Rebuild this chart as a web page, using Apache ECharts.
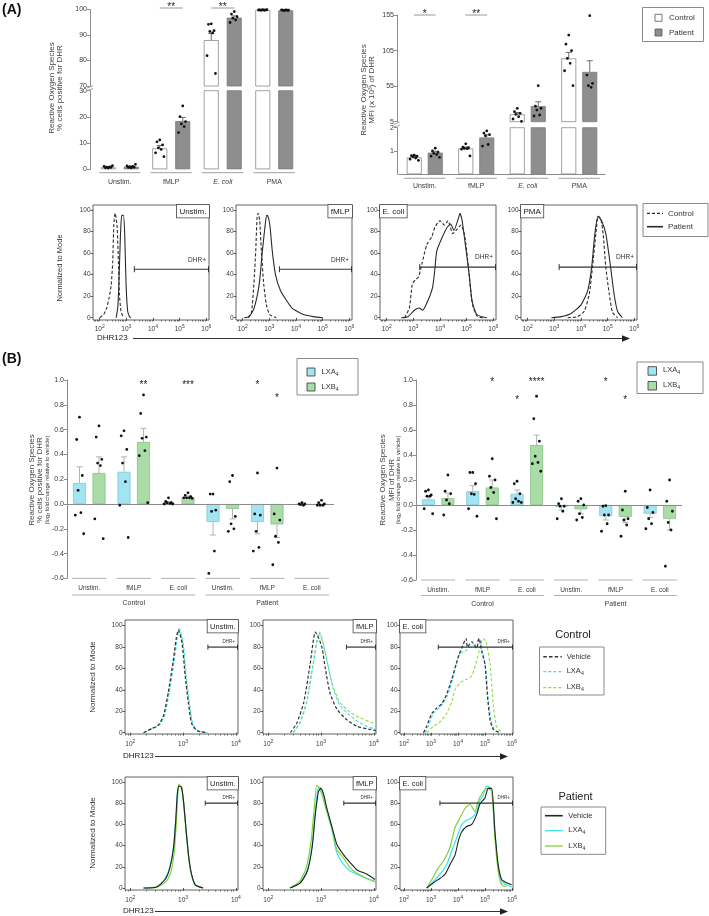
<!DOCTYPE html>
<html>
<head>
<meta charset="utf-8">
<title>ROS figure</title>
<script src="https://cdn.jsdelivr.net/npm/echarts@6.0.0/dist/echarts.min.js"></script>
<style>
html,body{margin:0;padding:0;background:#ffffff;}
#chart{width:709px;height:916px;}
</style>
</head>
<body>
<div id="chart"></div>
<script>
// ===================== DATA =====================
// ---- (A) bar charts ----
const catsA = ['Unstim.', 'fMLP', 'E. coli', 'PMA'];
// % cells positive for DHR
const pctControl = [0.75, 8.0, 88.0, 99.8];
const pctPatient = [1.0, 18.4, 96.8, 99.7];
const pctControlSem = [0.15, 1.1, 2.6, 0.1];
const pctPatientSem = [0.2, 1.4, 0.7, 0.1];
const pctControlDots = [
  [0.5, 0.6, 0.7, 0.8, 0.9, 1.1, 1.4],
  [11.2, 10.5, 9.3, 8.2, 7.6, 6.3, 4.8],
  [94.4, 94.2, 91.7, 91.4, 90.8, 81.9, 74.9],
  [99.9, 99.8, 99.8, 99.7, 99.7, 99.8, 99.9]
];
const pctPatientDots = [
  [0.6, 0.7, 0.8, 0.9, 1.1, 1.3, 1.9],
  [24.2, 20.1, 18.2, 17.3, 16.3, 14.0],
  [99.2, 98.2, 97.2, 96.6, 95.9, 94.9],
  [99.8, 99.7, 99.7, 99.6, 99.7, 99.8]
];
const pctSigCats = ['fMLP', 'E. coli'];
const pctSigText = ['**', '**'];
// MFI (x10^3) of DHR
const mfiControl = [0.73, 1.11, 15.4, 94.0];
const mfiPatient = [0.93, 1.58, 27.0, 75.0];
const mfiControlSem = [0.04, 0.06, 2.4, 8.5];
const mfiPatientSem = [0.06, 0.12, 6.0, 15.7];
const mfiControlDots = [
  [0.82, 0.8, 0.78, 0.75, 0.7, 0.65, 0.6],
  [1.31, 1.17, 1.14, 1.11, 1.1, 1.08, 0.79],
  [23.8, 19.1, 16.8, 15.4, 12.0, 8.8, 5.5],
  [126.8, 114.0, 104.8, 94.0, 87.0, 76.6, 55.6]
];
const mfiPatientDots = [
  [1.12, 1.0, 0.95, 0.9, 0.85, 0.78, 0.73],
  [1.86, 1.77, 1.7, 1.65, 1.28, 1.21],
  [55.6, 27.0, 23.8, 21.4, 14.4, 13.0],
  [154.0, 70.6, 59.0, 55.6, 53.3]
];
const mfiSigCats = ['Unstim.', 'fMLP'];
const mfiSigText = ['*', '**'];

// ---- (A) histograms: [log10 DHR123 intensity, % of mode] ----
const histTicksPct = [0, 20, 40, 60, 80, 100];
const aUnstimControl = [[2.0,0],[2.15,3],[2.25,8],[2.35,18],[2.43,30],[2.49,52],[2.53,86],[2.58,97],[2.65,86],[2.69,62],[2.74,22],[2.8,6],[2.89,0]];
const aUnstimPatient = [[2.62,0],[2.68,10],[2.72,31],[2.78,77],[2.83,95],[2.89,95],[2.94,77],[2.99,31],[3.05,6],[3.12,1],[3.17,0]];
const aFmlpControl = [[2.2,0],[2.33,5],[2.42,31],[2.49,62],[2.54,93],[2.58,97],[2.64,90],[2.7,62],[2.79,31],[2.89,12],[3.01,3],[3.26,0]];
const aFmlpPatient = [[2.06,0],[2.25,1],[2.43,9],[2.62,31],[2.74,62],[2.83,83],[2.9,95],[2.95,94],[3.02,86],[3.11,62],[3.23,40],[3.42,25],[3.67,15],[3.85,9],[4.04,6],[4.28,3],[4.65,1],[5.0,0]];
const aEcoliControl = [[2.67,0],[2.85,9],[2.96,31],[3.07,35],[3.2,38],[3.32,50],[3.51,68],[3.69,75],[3.81,84],[4.0,90],[4.17,86],[4.3,90],[4.48,78],[4.6,81],[4.79,86],[4.91,78],[5.0,62],[5.1,38],[5.22,12],[5.41,1],[5.72,0]];
const aEcoliPatient = [[2.55,0],[2.8,1],[3.04,7],[3.22,9],[3.35,7],[3.53,15],[3.72,28],[3.8,43],[3.88,62],[4.09,75],[4.27,84],[4.4,87],[4.52,81],[4.7,93],[4.75,97],[4.83,90],[4.95,68],[5.09,41],[5.2,16],[5.38,3],[5.75,0]];
const aPmaControl = [[3.5,0],[3.87,1],[4.12,6],[4.31,22],[4.43,47],[4.56,78],[4.64,94],[4.74,92],[4.83,78],[4.93,47],[5.06,22],[5.18,5],[5.37,0]];
const aPmaPatient = [[2.89,0],[3.26,1],[3.63,4],[4.0,12],[4.25,25],[4.4,47],[4.52,78],[4.64,94],[4.77,90],[4.93,78],[5.11,47],[5.24,22],[5.37,6],[5.55,0]];
const aGates = [[3.3,45],[3.38,45],[3.24,47],[3.18,47]]; // DHR+ gate start (log10) and drawing height

// ---- (B) bar charts ----
const catsB = ['Unstim.', 'fMLP', 'E. coli', 'Unstim.', 'fMLP', 'E. coli'];
const groupsB = ['Control', 'Patient'];
// % cells positive for DHR, log2 fold change vs vehicle
const pctLXA = [0.17, 0.26, 0.01, -0.145, -0.145, -0.005];
const pctLXB = [0.25, 0.50, 0.055, -0.04, -0.165, -0.005];
const pctLXASem = [0.13, 0.12, 0.008, 0.105, 0.095, 0.004];
const pctLXBSem = [0.13, 0.11, 0.01, 0.08, 0.105, 0.005];
const pctLXADots = [[0.70,0.52,0.23,0.11,-0.07,-0.09,-0.24],[0.59,0.55,0.44,0.33,0.18,-0.01,-0.27],[0.05,0.02,0.01,0.01,0.005,0.0,0.0],[0.08,0.08,-0.05,-0.06,-0.38,-0.56],[0.25,-0.08,-0.09,-0.22,-0.35,-0.38],[0.01,0.0,0.0,-0.005,-0.01]];
const pctLXBDots = [[0.63,0.54,0.36,0.33,0.31,-0.12,-0.28],[0.88,0.73,0.54,0.53,0.43,0.39,0.01],[0.09,0.07,0.06,0.05,0.05,0.05,0.045],[0.23,0.18,-0.10,-0.16,-0.20,-0.22],[0.29,-0.08,-0.13,-0.26,-0.31,-0.49],[0.03,0.01,0.0,-0.01,-0.01,-0.01]];
const pctSigB = { cat: [1, 2, 4, 4], series: [1, 1, 0, 1], y: [0.975, 0.975, 0.975, 0.87], text: ['**', '***', '*', '*'] };
// MFI of DHR, log2 fold change vs vehicle
const mfiLXA = [0.045, 0.11, 0.09, -0.015, -0.09, -0.07];
const mfiLXB = [0.055, 0.14, 0.48, -0.035, -0.095, -0.11];
const mfiLXASem = [0.025, 0.045, 0.03, 0.025, 0.03, 0.03];
const mfiLXBSem = [0.04, 0.06, 0.08, 0.035, 0.045, 0.09];
const mfiLXADots = [[0.12,0.11,0.08,0.07,0.07,-0.03,-0.07],[0.26,0.26,0.17,0.09,0.085,-0.03,-0.09],[0.19,0.17,0.09,0.05,0.03,0.02,0.02],[0.05,0.01,-0.01,-0.01,-0.05,-0.11],[-0.005,-0.01,-0.08,-0.08,-0.15,-0.21],[0.12,-0.02,-0.06,-0.11,-0.15,-0.19]];
const mfiLXBDots = [[0.24,0.11,0.09,0.04,0.01,-0.08],[0.37,0.23,0.2,0.14,0.1,0.05,-0.11],[0.87,0.69,0.51,0.39,0.34,0.33,0.27],[0.05,0.03,0.0,-0.07,-0.1,-0.12],[0.11,-0.04,-0.11,-0.12,-0.16,-0.25],[0.2,0.03,-0.05,-0.14,-0.2,-0.49]];
const mfiSigB = { cat: [1, 2, 2, 4, 4], series: [1, 0, 1, 0, 1], y: [1.0, 0.856, 1.0, 1.0, 0.856], text: ['*', '*', '****', '*', '*'] };

// ---- (B) histograms ----
const bcUnstimVeh = [[2.25,0],[2.41,4],[2.53,7],[2.63,16],[2.72,38],[2.81,66],[2.87,88],[2.91,96],[2.98,84],[3.04,53],[3.1,28],[3.16,9],[3.26,2],[3.45,0]];
const bcUnstimLXA = [[2.27,0],[2.43,4],[2.55,7],[2.65,16],[2.74,38],[2.83,66],[2.89,88],[2.93,97],[3.0,85],[3.06,53],[3.12,28],[3.18,9],[3.28,2],[3.47,0]];
const bcUnstimLXB = [[2.26,0],[2.42,4],[2.54,7],[2.64,17],[2.73,38],[2.82,67],[2.88,89],[2.92,96],[2.99,84],[3.05,52],[3.11,27],[3.17,8],[3.27,2],[3.46,0]];
const bcFmlpVeh = [[2.42,0],[2.54,9],[2.67,28],[2.79,63],[2.89,94],[2.95,89],[3.02,79],[3.08,60],[3.17,37],[3.3,22],[3.49,12],[3.68,6],[3.93,3],[4.04,2]];
const bcFmlpLXA = [[2.48,0],[2.6,9],[2.73,28],[2.85,63],[2.97,94],[3.04,84],[3.13,63],[3.23,41],[3.36,25],[3.55,16],[3.74,9],[3.99,4],[4.04,4]];
const bcFmlpLXB = [[2.47,0],[2.59,9],[2.72,28],[2.84,62],[2.96,93],[3.03,85],[3.12,65],[3.22,44],[3.36,28],[3.55,19],[3.74,14],[3.99,9],[4.04,8]];
const bcEcoliVeh = [[2.72,0],[2.84,6],[3.03,18],[3.21,23],[3.4,27],[3.58,36],[3.77,50],[3.93,64],[4.04,73],[4.14,79],[4.3,88],[4.35,80],[4.51,85],[4.69,79],[4.78,88],[4.88,76],[5.0,64],[5.09,35],[5.19,12],[5.31,3],[5.56,0]];
const bcEcoliLXA = [[2.78,0],[2.9,6],[3.09,18],[3.33,24],[3.58,33],[3.77,47],[4.0,70],[4.1,75],[4.27,76],[4.44,80],[4.63,82],[4.78,88],[4.91,76],[5.04,58],[5.12,32],[5.25,9],[5.37,2],[5.56,0]];
const bcEcoliLXB = [[2.84,0],[3.09,6],[3.33,10],[3.58,18],[3.77,29],[3.89,40],[4.09,47],[4.33,50],[4.51,53],[4.69,67],[4.81,79],[4.93,88],[5.04,85],[5.19,64],[5.31,26],[5.43,6],[5.62,0]];
const bpUnstimVeh = [[2.25,0],[2.5,1],[2.66,8],[2.75,19],[2.82,38],[2.86,63],[2.89,88],[2.92,96],[2.97,95],[3.01,81],[3.06,53],[3.11,28],[3.16,13],[3.23,3],[3.38,0]];
const bpUnstimLXA = [[2.25,0],[2.5,1],[2.66,9],[2.75,20],[2.82,39],[2.86,64],[2.89,89],[2.92,97],[2.97,95],[3.01,80],[3.06,52],[3.11,27],[3.16,12],[3.23,3],[3.38,0]];
const bpUnstimLXB = [[2.27,0],[2.52,1],[2.68,6],[2.77,15],[2.83,33],[2.87,60],[2.9,88],[2.92,98],[2.97,95],[3.01,81],[3.06,53],[3.11,28],[3.16,13],[3.23,3],[3.38,0]];
const bpFmlpVeh = [[2.42,0],[2.61,5],[2.74,16],[2.83,38],[2.89,69],[2.95,91],[3.0,94],[3.05,88],[3.11,75],[3.21,57],[3.3,41],[3.43,31],[3.55,24],[3.68,17],[3.87,13],[4.02,8]];
const bpFmlpLXA = [[2.42,0],[2.61,5],[2.74,17],[2.83,40],[2.89,72],[2.94,93],[2.98,95],[3.04,87],[3.11,72],[3.21,54],[3.3,33],[3.43,22],[3.55,16],[3.68,13],[3.87,9],[4.02,6]];
const bpFmlpLXB = [[2.4,0],[2.59,6],[2.72,19],[2.81,44],[2.87,75],[2.92,97],[2.97,94],[3.03,86],[3.11,72],[3.21,55],[3.3,36],[3.43,28],[3.55,19],[3.68,14],[3.87,9],[4.02,6]];
const bpEcoliVeh = [[2.84,0],[3.09,5],[3.33,9],[3.52,13],[3.7,22],[3.89,31],[4.01,44],[4.14,53],[4.32,58],[4.51,60],[4.69,69],[4.81,79],[5.0,85],[5.12,94],[5.25,94],[5.37,53],[5.49,22],[5.62,8],[5.8,5],[5.99,3]];
const bpEcoliLXA = [[2.84,0],[3.09,6],[3.33,13],[3.58,22],[3.77,35],[3.95,47],[4.14,60],[4.32,64],[4.51,66],[4.69,72],[4.81,82],[4.94,88],[5.06,96],[5.25,93],[5.37,53],[5.49,19],[5.62,6],[5.8,3],[5.99,1]];
const bpEcoliLXB = [[2.84,0],[3.03,8],[3.27,19],[3.45,25],[3.7,38],[3.89,57],[4.07,66],[4.26,75],[4.44,79],[4.63,72],[4.75,82],[4.94,91],[5.09,94],[5.25,91],[5.37,47],[5.49,16],[5.62,3],[5.8,1]];
const bcGates = [[3.47,80],[3.48,80],[3.27,80]];
const bpGates = [[3.42,80],[3.43,80],[3.33,80]];

// ===================== BUILD =====================
const FF = '"Liberation Sans", Arial, Helvetica, sans-serif';
const F = (s, w) => (w ? w + ' ' : '') + s + 'px ' + FF;
const AXC = '#8c8c8c', TXT = '#3a3a3a';
const JIT = [0, -2.8, 2.8, -1.4, 1.4, -4.2, 4.2];
const grid = [], xAxis = [], yAxis = [], series = [], graphic = [];

function isObj(o) { return o && typeof o === 'object' && !Array.isArray(o); }
function merge(a, b) { const r = Object.assign({}, a); for (const k in b) { r[k] = (isObj(a[k]) && isObj(b[k])) ? merge(a[k], b[k]) : b[k]; } return r; }
function addGrid(l, t, w, h, extra) { grid.push(Object.assign({ left: l, top: t, width: w, height: h }, extra || {})); return grid.length - 1; }
function addX(o) { xAxis.push(o); return xAxis.length - 1; }
function addY(o) { yAxis.push(o); return yAxis.length - 1; }

const catLabelRich = { i: { fontStyle: 'italic', fontSize: 7, color: TXT, fontFamily: FF } };
const baseCatX = { type: 'category', boundaryGap: true, axisLine: { show: false }, axisTick: { show: false }, axisLabel: { show: false }, splitLine: { show: false } };
const baseValY = { type: 'value', splitLine: { show: false },
  axisLine: { show: true, lineStyle: { color: AXC, width: 1 } },
  axisTick: { show: true, length: 3, lineStyle: { color: AXC } },
  axisLabel: { fontSize: 7, color: TXT, margin: 3, fontFamily: FF } };

function barSeries(name, xi, yi, data, fill, border, bw, gap, extra) {
  series.push(Object.assign({ type: 'bar', name: name, xAxisIndex: xi, yAxisIndex: yi, data: data, barWidth: bw, barGap: gap,
    clip: true, silent: true, z: 2, itemStyle: { color: fill, borderColor: border, borderWidth: 0.8 } }, extra || {}));
}
function collectDots(a, b, keep) {
  const out = [];
  [a, b].forEach((arr, slot) => arr.forEach((vals, ci) => vals.forEach((v, k) => { if (keep(v)) out.push([ci, v, slot, k]); })));
  return out;
}
function collectErr(mA, mB, eA, eB, keep) {
  const out = [];
  [[mA, eA], [mB, eB]].forEach((pair, slot) => pair[0].forEach((v, ci) => { if (keep(v)) out.push([ci, v, pair[1][ci], slot]); }));
  return out;
}
function dotsSeries(xi, yi, items, off, r) {
  series.push({ type: 'custom', xAxisIndex: xi, yAxisIndex: yi, data: items, silent: true, z: 6,
    renderItem: (p, api) => {
      const c = api.coord([api.value(0), api.value(1)]);
      const x = c[0] + (api.value(2) ? off : -off) + JIT[api.value(3) % JIT.length];
      return { type: 'circle', shape: { cx: x, cy: c[1], r: r }, style: { fill: '#111' } };
    } });
}
function errSeries(xi, yi, items, off, color, cap) {
  series.push({ type: 'custom', xAxisIndex: xi, yAxisIndex: yi, data: items, silent: true, z: 4,
    renderItem: (p, api) => {
      const ci = api.value(0), m = api.value(1), e = api.value(2), slot = api.value(3);
      const d = m < 0 ? -1 : 1;
      const a = api.coord([ci, m]), b = api.coord([ci, m + d * e]);
      const x = a[0] + (slot ? off : -off);
      return { type: 'group', children: [
        { type: 'line', shape: { x1: x, y1: a[1], x2: x, y2: b[1] }, style: { stroke: color, lineWidth: 1 } },
        { type: 'line', shape: { x1: x - cap, y1: b[1], x2: x + cap, y2: b[1] }, style: { stroke: color, lineWidth: 1 } }
      ] };
    } });
}
function segSeries(xi, yi, n, yVal, dy, hw, color) {
  const d = []; for (let i = 0; i < n; i++) d.push([i, yVal]);
  series.push({ type: 'custom', xAxisIndex: xi, yAxisIndex: yi, data: d, silent: true, z: 3,
    renderItem: (p, api) => {
      const c = api.coord([api.value(0), api.value(1)]);
      const bw = api.size([1, 0])[0];
      return { type: 'line', shape: { x1: c[0] - hw * bw, y1: c[1] + dy, x2: c[0] + hw * bw, y2: c[1] + dy }, style: { stroke: color, lineWidth: 1 } };
    } });
}
function sigGroupSeries(xi, yi, cats, sigCats, sigText, yVal, off, lineDy) {
  series.push({ type: 'custom', xAxisIndex: xi, yAxisIndex: yi, data: sigCats.map(c => [cats.indexOf(c), yVal]), silent: true, z: 7,
    renderItem: (p, api) => {
      const c = api.coord([api.value(0), api.value(1)]);
      const y = c[1] + lineDy;
      return { type: 'group', children: [
        { type: 'line', shape: { x1: c[0] - off, y1: y, x2: c[0] + off, y2: y }, style: { stroke: '#9a9a9a', lineWidth: 1 } },
        { type: 'text', style: { text: sigText[p.dataIndex], x: c[0], y: y - 1.2, font: F(10), fill: '#222', textAlign: 'center', textVerticalAlign: 'middle' } }
      ] };
    } });
}
function sigBarSeries(xi, yi, sig, off) {
  series.push({ type: 'custom', xAxisIndex: xi, yAxisIndex: yi, data: sig.cat.map((c, i) => [c, sig.y[i], sig.series[i]]), silent: true, z: 7,
    renderItem: (p, api) => {
      const c = api.coord([api.value(0), api.value(1)]);
      const x = c[0] + (api.value(2) ? off : -off);
      return { type: 'text', style: { text: sig.text[p.dataIndex], x: x, y: c[1] + 2.2, font: F(10), fill: '#222', textAlign: 'center', textVerticalAlign: 'middle' } };
    } });
}

// ---------- (A) broken-axis bar charts ----------
function brokenBars(c) {
  return c.parts.map(pt => {
    const gi = addGrid(c.left, pt.top, c.width, pt.height);
    const xi = addX(merge(baseCatX, merge({ gridIndex: gi, data: c.cats }, pt.x || {})));
    const yi = addY(merge(baseValY, merge({ gridIndex: gi, min: pt.min, max: pt.max, offset: c.yOffset }, pt.y || {})));
    barSeries('Control', xi, yi, c.ctrl, '#ffffff', '#8a8a8a', c.bw, c.gap);
    barSeries('Patient', xi, yi, c.pat, '#8e8e8e', '#7a7a7a', c.bw, c.gap);
    errSeries(xi, yi, collectErr(c.ctrl, c.pat, c.ctrlSem, c.patSem, pt.keep), c.off, '#6a6a6a', 3);
    dotsSeries(xi, yi, collectDots(c.ctrlDots, c.patDots, pt.keep), c.off, 1.4);
    return { xi: xi, yi: yi };
  });
}
const catLabel = { show: true, fontSize: 7, color: TXT, fontFamily: FF, rich: catLabelRich,
  formatter: v => (v === 'E. coli' ? '{i|E. coli}' : v) };

const a1 = brokenBars({ left: 94, width: 206, yOffset: 4, cats: catsA, bw: 15, gap: '53%', off: 11.5,
  ctrl: pctControl, pat: pctPatient, ctrlSem: pctControlSem, patSem: pctPatientSem, ctrlDots: pctControlDots, patDots: pctPatientDots,
  parts: [
    { top: 9.5, height: 76.5, min: 70, max: 100, y: { interval: 10 }, keep: v => v >= 70 },
    { top: 90.7, height: 78.6, min: 0, max: 30, y: { interval: 10 }, keep: v => v <= 30,
      x: { axisLabel: merge(catLabel, { margin: 9 }) } }
  ] });
segSeries(a1[1].xi, a1[1].yi, catsA.length, 0, 3.4, 0.4, '#a0a0a0');
sigGroupSeries(a1[0].xi, a1[0].yi, catsA, pctSigCats, pctSigText, 100, 11.5, -1.5);

const a2 = brokenBars({ left: 399, width: 206, yOffset: 2, cats: catsA, bw: 15, gap: '40%', off: 10.5,
  ctrl: mfiControl, pat: mfiPatient, ctrlSem: mfiControlSem, patSem: mfiPatientSem, ctrlDots: mfiControlDots, patDots: mfiPatientDots,
  parts: [
    { top: 15, height: 106.7, min: 5, max: 155, keep: v => v >= 5,
      y: { axisLabel: { customValues: [5, 55, 105, 155] }, axisTick: { customValues: [5, 55, 105, 155] } } },
    { top: 127.7, height: 46.6, min: 0, max: 2, keep: v => v <= 2,
      y: { axisLabel: { customValues: [1, 2] }, axisTick: { customValues: [1, 2] } },
      x: { axisLine: { show: true, lineStyle: { color: AXC, width: 1 } }, axisLabel: merge(catLabel, { margin: 8 }) } }
  ] });
segSeries(a2[1].xi, a2[1].yi, catsA.length, 0, 4, 0.4, '#a0a0a0');
sigGroupSeries(a2[0].xi, a2[0].yi, catsA, mfiSigCats, mfiSigText, 155, 11, 0);

// ---------- histograms ----------
function addHist(L) {
  const gi = addGrid(L.left, L.top, L.width, L.height, { show: true, borderColor: '#3a3a3a', borderWidth: 0.8, backgroundColor: 'transparent' });
  const xi = addX({ type: 'value', gridIndex: gi, min: L.xMin, max: L.xMax, position: 'bottom',
    axisLine: { show: false }, splitLine: { show: false },
    axisTick: { show: true, customValues: L.majors, length: 3, lineStyle: { color: '#333', width: 0.8 } },
    axisLabel: { show: true, customValues: L.majors, margin: L.labMargin, formatter: v => '{b|10}{s|' + Math.round(v) + '}',
      rich: { b: { fontSize: 6.5, color: TXT, fontFamily: FF, verticalAlign: 'bottom' },
              s: { fontSize: 5, color: TXT, fontFamily: FF, verticalAlign: 'top', padding: [0, 0, 4, 0] } } } });
  const minors = [];
  for (let n = 1; n < 7; n++) for (let k = 2; k < 10; k++) { const v = n + Math.log10(k); if (v > L.xMin && v < L.xMax) minors.push(+v.toFixed(4)); }
  addX({ type: 'value', gridIndex: gi, min: L.xMin, max: L.xMax, position: 'bottom', axisLine: { show: false }, splitLine: { show: false },
    axisLabel: { show: false }, axisTick: { show: true, customValues: minors, length: 1.6, lineStyle: { color: '#333', width: 0.6 } } });
  const yi = addY({ type: 'value', gridIndex: gi, min: L.yMin, max: L.yMax, axisLine: { show: false }, splitLine: { show: false },
    axisTick: { show: true, customValues: histTicksPct, length: 2.5, lineStyle: { color: '#333', width: 0.8 } },
    axisLabel: { show: true, customValues: histTicksPct, fontSize: 6.5, color: TXT, margin: 2.5, fontFamily: FF } });
  L.curves.forEach(c => series.push({ type: 'line', xAxisIndex: xi, yAxisIndex: yi, data: c.data, showSymbol: false, symbol: 'none',
    smooth: 0.2, silent: true, z: c.z || 2, lineStyle: { color: c.color, width: c.width, type: c.dash ? [3.2, 2] : 'solid' } }));
  series.push({ type: 'custom', xAxisIndex: xi, yAxisIndex: yi, data: [L.gate], silent: true, z: 5,
    renderItem: (p, api) => {
      const a = api.coord([api.value(0), api.value(1)]);
      const b = api.coord([L.xMax, api.value(1)]);
      const h = L.capH;
      return { type: 'group', children: [
        { type: 'line', shape: { x1: a[0], y1: a[1], x2: b[0], y2: a[1] }, style: { stroke: '#333', lineWidth: 1.2 } },
        { type: 'line', shape: { x1: a[0], y1: a[1] - h, x2: a[0], y2: a[1] + h }, style: { stroke: '#333', lineWidth: 1 } },
        { type: 'line', shape: { x1: b[0] - 0.5, y1: a[1] - h, x2: b[0] - 0.5, y2: a[1] + h }, style: { stroke: '#333', lineWidth: 1 } },
        { type: 'text', style: { text: 'DHR+', x: b[0] - 3, y: a[1] - L.gateDy, font: F(L.gateFont), fill: '#333', textAlign: 'right', textVerticalAlign: 'bottom' } }
      ] };
    } });
  series.push({ type: 'custom', xAxisIndex: xi, yAxisIndex: yi, data: [[L.xMin, L.yMax]], silent: true, z: 8,
    renderItem: (p) => {
      const cs = p.coordSys;
      const right = !L.tagLeft;
      return { type: 'text', style: { text: L.tag, x: right ? cs.x + cs.width : cs.x, y: cs.y, font: F(L.tagFont), fill: '#222',
        textAlign: right ? 'right' : 'left', textVerticalAlign: 'top', backgroundColor: '#ffffff', borderColor: '#444', borderWidth: 0.8, padding: [2.5, 2.5, 2, 2.5] } };
    } });
}
const CTRL_DASH = '#2a2a2a';
// (A) histogram row
const aRow = [
  { tag: 'Unstim.', tagLeft: false, c: aUnstimControl, p: aUnstimPatient },
  { tag: 'fMLP', tagLeft: false, c: aFmlpControl, p: aFmlpPatient },
  { tag: 'E. coli', tagLeft: true, c: aEcoliControl, p: aEcoliPatient },
  { tag: 'PMA', tagLeft: true, c: aPmaControl, p: aPmaPatient }
];
const aLefts = [93, 236, 380, 521];
aRow.forEach((r, i) => addHist({ left: aLefts[i], top: 205, width: 116, height: 115, xMin: 1.75, xMax: 6.1, yMin: -2.1, yMax: 104.6,
  majors: [2, 3, 4, 5, 6], labMargin: 4, tag: r.tag, tagLeft: r.tagLeft, tagFont: 8, gate: aGates[i], capH: 3, gateFont: 6.5, gateDy: 6,
  curves: [{ data: r.c, color: CTRL_DASH, width: 1.1, dash: true }, { data: r.p, color: '#2a2a2a', width: 1.1 }] }));

// (B) histogram rows
const C_LXA = '#3fe0ee', C_LXB = '#93da48', P_LXA = '#35e4f2', P_LXB = '#7fd23a';
const bLefts = [125, 263, 400];
const bRanges = [[1.9, 4.04, [2, 3, 4]], [1.9, 4.04, [2, 3, 4]], [1.85, 6.04, [2, 3, 4, 5, 6]]];
const bTags = ['Unstim.', 'fMLP', 'E. coli'];
const bcRow = [[bcUnstimVeh, bcUnstimLXA, bcUnstimLXB], [bcFmlpVeh, bcFmlpLXA, bcFmlpLXB], [bcEcoliVeh, bcEcoliLXA, bcEcoliLXB]];
const bpRow = [[bpUnstimVeh, bpUnstimLXA, bpUnstimLXB], [bpFmlpVeh, bpFmlpLXA, bpFmlpLXB], [bpEcoliVeh, bpEcoliLXA, bpEcoliLXB]];
bcRow.forEach((r, i) => addHist({ left: bLefts[i], top: 620, width: 113, height: 114, xMin: bRanges[i][0], xMax: bRanges[i][1], yMin: -1.2, yMax: 105.3,
  majors: bRanges[i][2], labMargin: 5, tag: bTags[i], tagLeft: i === 2, tagFont: 7.5, gate: bcGates[i], capH: 2.5, gateFont: 4.5, gateDy: 3,
  curves: [{ data: r[2], color: C_LXB, width: 1.1, dash: true }, { data: r[1], color: C_LXA, width: 1.1, dash: true }, { data: r[0], color: '#333', width: 1.2, dash: true, z: 3 }] }));
bpRow.forEach((r, i) => addHist({ left: bLefts[i], top: 777, width: 113, height: 113, xMin: bRanges[i][0], xMax: bRanges[i][1], yMin: -1.9, yMax: 104.7,
  majors: bRanges[i][2], labMargin: 5, tag: bTags[i], tagLeft: i === 2, tagFont: 7.5, gate: bpGates[i], capH: 2.5, gateFont: 4.5, gateDy: 3,
  curves: [{ data: r[1], color: P_LXA, width: 1.2 }, { data: r[2], color: P_LXB, width: 1.2 }, { data: r[0], color: '#222', width: 1.1, z: 3 }] }));

// ---------- (B) lipoxin bar charts ----------
const LXA_FILL = '#a3e4f2', LXA_BORDER = '#80c6d6', LXB_FILL = '#a9dca7', LXB_BORDER = '#88c286';
function lxChart(c) {
  const gi = addGrid(c.left, c.top, c.width, c.height);
  const xi = addX(merge(baseCatX, { gridIndex: gi, data: catsB, axisLabel: { show: true, margin: 6.5, fontSize: 6.5, color: TXT, fontFamily: FF } }));
  const yi = addY(merge(baseValY, { gridIndex: gi, min: -0.6, max: 1.0, interval: 0.2, axisLabel: { formatter: v => v.toFixed(1) } }));
  barSeries('LXA4', xi, yi, c.a, LXA_FILL, LXA_BORDER, 13, '50%', { markLine: { silent: true, symbol: ['none', 'none'], label: { show: false },
    lineStyle: { color: AXC, width: 1, type: 'solid' }, data: [{ yAxis: 0 }] } });
  barSeries('LXB4', xi, yi, c.b, LXB_FILL, LXB_BORDER, 13, '50%');
  errSeries(xi, yi, collectErr(c.a, c.b, c.aSem, c.bSem, () => true), 9.75, '#b3b3b3', 3);
  dotsSeries(xi, yi, collectDots(c.aDots, c.bDots, () => true), 9.75, 1.4);
  segSeries(xi, yi, catsB.length, -0.6, 0, 0.385, '#b0b0b0');
  series.push({ type: 'custom', xAxisIndex: xi, yAxisIndex: yi, data: [[0, -0.6, 2], [3, -0.6, 5]], silent: true, z: 3,
    renderItem: (p, api) => {
      const a = api.coord([api.value(0), api.value(1)]), b = api.coord([api.value(2), api.value(1)]);
      const bw = api.size([1, 0])[0];
      const y = a[1] + c.bracketDy;
      return { type: 'group', children: [
        { type: 'line', shape: { x1: a[0] - 0.385 * bw, y1: y, x2: b[0] + 0.385 * bw, y2: y }, style: { stroke: '#b0b0b0', lineWidth: 1 } },
        { type: 'text', style: { text: groupsB[p.dataIndex], x: (a[0] + b[0]) / 2, y: y + 8.5, font: F(7), fill: TXT, textAlign: 'center', textVerticalAlign: 'middle' } }
      ] };
    } });
  sigBarSeries(xi, yi, c.sig, 9.75);
}
lxChart({ left: 67, top: 380, width: 267, height: 198.4, a: pctLXA, b: pctLXB, aSem: pctLXASem, bSem: pctLXBSem, aDots: pctLXADots, bDots: pctLXBDots, sig: pctSigB, bracketDy: 16.6 });
lxChart({ left: 416, top: 380, width: 266, height: 200, a: mfiLXA, b: mfiLXB, aSem: mfiLXASem, bSem: mfiLXBSem, aDots: mfiLXADots, bDots: mfiLXBDots, sig: mfiSigB, bracketDy: 15.5 });

// ---------- text, legends, arrows ----------
function txt(text, x, y, font, extra) {
  graphic.push({ type: 'text', silent: true, style: Object.assign({ text: text, x: x, y: y, font: font, fill: '#333', textAlign: 'left', textVerticalAlign: 'middle' }, extra || {}) });
}
function vtxt(text, x, y, font, extra) {
  graphic.push({ type: 'text', silent: true, x: x, y: y, rotation: Math.PI / 2,
    style: Object.assign({ text: text, x: 0, y: 0, font: font, fill: '#444', textAlign: 'center', textVerticalAlign: 'middle' }, extra || {}) });
}
function rect(x, y, w, h, fill, stroke, lw) {
  graphic.push({ type: 'rect', silent: true, shape: { x: x, y: y, width: w, height: h }, style: { fill: fill, stroke: stroke, lineWidth: lw || 1 } });
}
function line(x1, y1, x2, y2, stroke, lw, dash) {
  graphic.push({ type: 'line', silent: true, shape: { x1: x1, y1: y1, x2: x2, y2: y2 }, style: { stroke: stroke, lineWidth: lw || 1, lineDash: dash || null } });
}
function arrow(tx, ty, x1, x2) {
  txt('DHR123', tx, ty, F(8), { fill: '#222' });
  line(x1, ty + 0.5, x2, ty + 0.5, '#333', 1.2);
  graphic.push({ type: 'polygon', silent: true, shape: { points: [[x2, ty - 2.8], [x2 + 8, ty + 0.5], [x2, ty + 3.8]] }, style: { fill: '#222' } });
}
const subRich = (size) => ({ a: { font: F(size), fill: '#333', verticalAlign: 'top' }, s: { font: F(size * 0.7), fill: '#333', verticalAlign: 'bottom', padding: [size * 0.55, 0, 0, 0] } });

txt('(A)', 2, 3, F(14, 'bold'), { fill: '#111', textVerticalAlign: 'top' });
txt('(B)', 2, 352, F(14, 'bold'), { fill: '#111', textVerticalAlign: 'top' });

// axis titles
vtxt('Reactive Oxygen Species', 52, 88, F(8));
vtxt('% cells positive for DHR', 60, 88, F(8));
vtxt('Reactive Oxygen Species', 364, 90, F(8));
vtxt('MFI (x 10\u00b3) of DHR', 372, 90, F(8));
vtxt('Normalized to Mode', 60, 268, F(7.5), { fill: '#333' });
vtxt('Reactive Oxygen Species', 32, 480, F(8));
vtxt('% cells positive for DHR', 40, 480, F(8));
vtxt('{a|(log}{s|2}{a| fold change relative to vehicle)}', 47.5, 480, '', { rich: subRich(5.6) });
vtxt('Reactive Oxygen Species', 383, 480, F(8));
vtxt('MFI of DHR', 391.5, 480, F(8));
vtxt('{a|(log}{s|2}{a| fold change relative to vehicle)}', 398.5, 480, '', { rich: subRich(5.6) });
vtxt('Normalized to Mode', 93, 677, F(8), { fill: '#333' });
vtxt('Normalized to Mode', 93, 833, F(8), { fill: '#333' });

// DHR123 arrows
arrow(97, 338, 133, 622);
arrow(123, 756, 155, 500);
arrow(123, 911, 155, 500);

// axis break marks
[[90, 88.3], [396.7, 124.7]].forEach(b => {
  rect(b[0] - 3, b[1] - 1.6, 6, 3.2, '#ffffff', 'none', 0);
  line(b[0] - 3, b[1] - 0.2, b[0] + 3, b[1] - 2.6, '#8c8c8c', 0.8);
  line(b[0] - 3, b[1] + 2.6, b[0] + 3, b[1] + 0.2, '#8c8c8c', 0.8);
});

// legend (A) bars
rect(642.5, 7.5, 61, 34, 'none', '#8a8a8a', 1);
rect(655, 14.3, 7, 7, '#ffffff', '#555', 0.8);
rect(655, 29, 7, 7, '#8e8e8e', '#555', 0.8);
txt('Control', 669, 18, F(8));
txt('Patient', 669, 32.5, F(8));
// legend (A) histograms
rect(643, 203.5, 65, 33, 'none', '#8a8a8a', 1);
line(647, 213.3, 663, 213.3, '#2a2a2a', 1.2, [3, 2]);
line(647, 226.7, 663, 226.7, '#2a2a2a', 1.6);
txt('Control', 668, 213.3, F(8));
txt('Patient', 668, 226.7, F(8));
// legends (B) bars
[[297, 358.5, 61, 36.5, 307, 368, 383, 8, 321.5], [637, 362, 66, 31.5, 648, 366.7, 381.5, 8.5, 663]].forEach(g => {
  rect(g[0], g[1], g[2], g[3], 'none', '#8a8a8a', 1);
  rect(g[4], g[5], g[7], g[7], LXA_FILL, '#333', 0.8);
  rect(g[4], g[6], g[7], g[7], LXB_FILL, '#333', 0.8);
  txt('{a|LXA}{s|4}', g[8], g[5] + g[7] / 2, '', { rich: subRich(7.5) });
  txt('{a|LXB}{s|4}', g[8], g[6] + g[7] / 2, '', { rich: subRich(7.5) });
});
// legends (B) histograms
function histLegend(title, tx, ty, bx, by, bw, bh, lx1, lx2, ys, textX, colors, dash) {
  txt(title, tx, ty, F(11), { fill: '#222', textAlign: 'center' });
  rect(bx, by, bw, bh, 'none', '#8a8a8a', 1);
  const names = ['Vehicle', '{a|LXA}{s|4}', '{a|LXB}{s|4}'];
  ys.forEach((y, i) => {
    line(lx1, y, lx2, y, colors[i], i === 0 ? 1.6 : 1.3, dash ? (i === 0 ? [3.5, 2.2] : [3, 2]) : null);
    if (i === 0) txt(names[i], textX, y, F(7.5));
    else txt(names[i], textX, y, '', { rich: subRich(7.5) });
  });
}
histLegend('Control', 573, 635, 539.5, 647, 64.5, 48, 543.3, 561.7, [656.7, 671.7, 687.7], 566.7, ['#333', C_LXA, C_LXB], true);
histLegend('Patient', 575.5, 797, 541, 807, 64.7, 47.3, 545, 562.7, [815.7, 830.7, 846], 568.3, ['#222', P_LXA, P_LXB], false);

const chart = echarts.init(document.getElementById('chart'), null, { renderer: 'canvas' });
chart.setOption({
  backgroundColor: '#ffffff',
  animation: false,
  textStyle: { fontFamily: FF },
  grid: grid, xAxis: xAxis, yAxis: yAxis, series: series, graphic: graphic
});
</script>
</body>
</html>
